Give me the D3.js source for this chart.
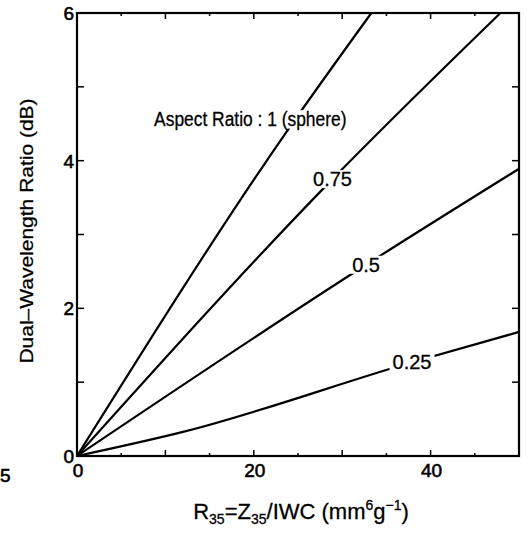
<!DOCTYPE html>
<html>
<head>
<meta charset="utf-8">
<script src="https://cdn.jsdelivr.net/npm/d3@7"></script>
<style>
  body { margin: 0; background: #fff; }
  text { font-family: "Liberation Sans", Arial, Helvetica, sans-serif; fill: #000; stroke: #000; stroke-width: 0.3px; }
  .tick-label { stroke-width: 0.6px; }
</style>
</head>
<body>
<script>
// values
const aspectRatios = ["1", "0.75", "0.5", "0.25"];
const curveR35 = [
  [0, 23.7, 33.3],
  [0, 28.9, 47.9],
  [0, 32.7, 50],
  [0, 12.1, 37.9, 50]
];
const curveDWR = [
  [0, 4.39, 6],
  [0, 3.75, 6],
  [0, 2.59, 3.89],
  [0, 0.33, 1.27, 1.68]
];
const labelText = ["Aspect Ratio : 1 (sphere)", "0.75", "0.5", "0.25"];
const labelR35 = [19.6, 28.9, 32.7, 37.9];
const labelDWR = [4.56, 3.75, 2.59, 1.27];
const xTickLabels = [0, 20, 40];
const yTickLabels = [0, 2, 4, 6];

const width = 530, height = 544;
const plotL = 77, plotR = 519, plotT = 13, plotB = 456;

const svg = d3.select("body").append("svg")
  .attr("width", width)
  .attr("height", height);

const x = d3.scaleLinear().domain([0, 50]).range([plotL, plotR]);
const y = d3.scaleLinear().domain([0, 6]).range([plotB, plotT]);

// curves
const line = d3.line().x(d => x(d[0])).y(d => y(d[1])).curve(d3.curveMonotoneX);
const series = aspectRatios.map((a, i) => curveR35[i].map((v, j) => [v, curveDWR[i][j]]));

svg.append("g").selectAll("path")
  .data(series)
  .join("path")
    .attr("d", line)
    .attr("fill", "none")
    .attr("stroke", "#000")
    .attr("stroke-width", 2.2);

// labels sitting on the curves, with white behind to break the line
const lab = svg.append("g").selectAll("g")
  .data(labelText)
  .join("g")
    .attr("transform", (d, i) => `translate(${x(labelR35[i])},${y(labelDWR[i])})` + (i === 0 ? " scale(0.87,1)" : ""));
lab.append("rect").attr("fill", "#fff");
lab.append("text")
  .attr("text-anchor", "middle")
  .attr("dy", "0.35em")
  .style("font-size", "20px")
  .text(d => d);
lab.each(function () {
  const g = d3.select(this);
  const b = g.select("text").node().getBBox();
  g.select("rect")
    .attr("x", b.x - 3).attr("y", b.y + 2)
    .attr("width", b.width + 6).attr("height", b.height - 4);
});

// ticks on all four sides, pointing inward
const xTicks = d3.range(0, 51, 5);
const yTicks = d3.range(0, 7, 1);
const ticks = svg.append("g").attr("stroke", "#000").attr("stroke-width", 1.5);
ticks.selectAll(".xb").data(xTicks).join("line")
  .attr("x1", d => x(d)).attr("x2", d => x(d))
  .attr("y1", plotB).attr("y2", d => plotB - (d % 10 === 0 ? 6 : 3));
ticks.selectAll(".xt").data(xTicks).join("line")
  .attr("x1", d => x(d)).attr("x2", d => x(d))
  .attr("y1", plotT).attr("y2", d => plotT + (d % 10 === 0 ? 6 : 3));
ticks.selectAll(".yl").data(yTicks).join("line")
  .attr("y1", d => y(d)).attr("y2", d => y(d))
  .attr("x1", plotL).attr("x2", plotL + 7);
ticks.selectAll(".yr").data(yTicks).join("line")
  .attr("y1", d => y(d)).attr("y2", d => y(d))
  .attr("x1", plotR).attr("x2", plotR - 7);

// frame
svg.append("rect")
  .attr("x", plotL).attr("y", plotT)
  .attr("width", plotR - plotL).attr("height", plotB - plotT)
  .attr("fill", "none").attr("stroke", "#000").attr("stroke-width", 2.2);

// tick labels
svg.append("g").selectAll("text").data(xTickLabels).join("text")
  .attr("class", "tick-label")
  .attr("x", d => x(d) + 1).attr("y", plotB + 21)
  .attr("text-anchor", "middle")
  .style("font-size", "19px")
  .text(d => d);
svg.append("g").selectAll("text").data(yTickLabels).join("text")
  .attr("class", "tick-label")
  .attr("x", plotL - 3).attr("y", d => y(d)).attr("dy", "0.36em")
  .attr("text-anchor", "end")
  .style("font-size", "19px")
  .text(d => d);

// axis titles
const xt = svg.append("text")
  .attr("x", 301).attr("y", 519)
  .attr("text-anchor", "middle")
  .style("font-size", "22px");
xt.append("tspan").text("R");
xt.append("tspan").attr("dy", 5).style("font-size", "14px").text("35");
xt.append("tspan").attr("dy", -5).text("=Z");
xt.append("tspan").attr("dy", 5).style("font-size", "14px").text("35");
xt.append("tspan").attr("dy", -5).text("/IWC (mm");
xt.append("tspan").attr("dy", -9).style("font-size", "14px").text("6");
xt.append("tspan").attr("dy", 9).text("g");
xt.append("tspan").attr("dy", -9).style("font-size", "14px").text("\u22121");
xt.append("tspan").attr("dy", 9).text(")");

svg.append("text")
  .attr("transform", "translate(33,231) scale(0.87,1) rotate(-90)")
  .attr("text-anchor", "middle")
  .style("font-size", "21px")
  .text("Dual\u2013Wavelength Ratio (dB)");

// tick label of the neighbouring panel, at the left edge
svg.append("text")
  .attr("class", "tick-label")
  .attr("x", 0).attr("y", 482)
  .style("font-size", "19px")
  .text("5");
</script>
</body>
</html>
